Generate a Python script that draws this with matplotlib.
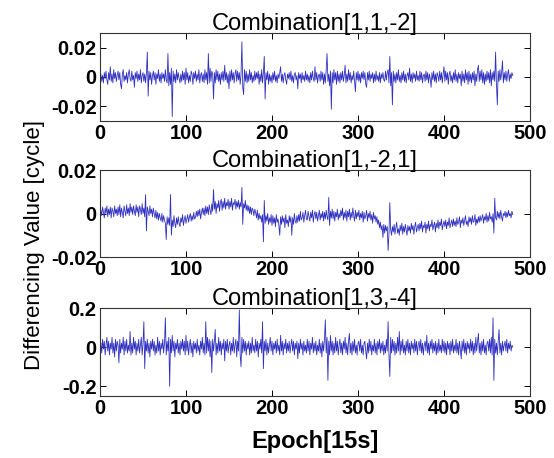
import numpy as np
import matplotlib
matplotlib.use("Agg")
import matplotlib.pyplot as plt

plt.rcParams['font.family'] = ['Liberation Sans', 'DejaVu Sans']

# ---------------- data ----------------
titles = ["Combination[1,1,-2]", "Combination[1,-2,1]", "Combination[1,3,-4]"]
ylims = [(-0.03, 0.03), (-0.02, 0.02), (-0.25, 0.2)]
yticks = [[-0.02, 0, 0.02], [-0.02, 0, 0.02], [-0.2, 0, 0.2]]
ytick_labels = [["-0.02", "0", "0.02"], ["-0.02", "0", "0.02"], ["-0.2", "0", "0.2"]]
xticks = [0, 100, 200, 300, 400, 500]

# Combination[1,1,-2], in units of 0.001 cycle, epochs 1..480
comb_112_mcyc = [
    2, -3, 1, -4, 3, -1, 4, -2, -5, 3,
    -2, 7, -3, 2, -4, 5, -1, 3, -3, 1,
    4, -2, 3, -5, -8, 2, 5, -3, 1, -2,
    3, -4, 2, 5, -1, -3, 4, -2, 1, -7,
    3, -1, 4, -3, 2, -2, 5, -4, 1, 3,
    -3, 2, -4, 3, 17, -13, 4, -2, 3, -5,
    1, 4, -2, 3, -5, 2, -1, 5, -3, 2,
    -4, 3, -1, 2, -3, 5, -2, -4, 16, -6,
    3, -5, 6, -27, 4, -3, 2, -4, 5, -2,
    3, -1, -4, 2, -3, 4, -2, 3, -5, 6,
    -2, 3, -4, 1, -3, 4, 2, -5, 3, -1,
    4, -3, 2, -2, 5, -4, 1, 3, -3, 2,
    -4, 5, -2, 3, -5, 16, -4, 6, -3, 4,
    2, -15, 3, -4, 5, -2, 4, -3, 2, -5,
    3, -2, 4, -3, 8, -2, 3, -4, 2, -8,
    4, -3, 5, -2, 3, -4, 2, 5, -3, 4,
    -2, 3, -5, 2, 24, -7, -12, 5, -3, 4,
    -4, 2, -3, 5, -2, 3, -4, 1, -3, 4,
    -2, 3, -1, 4, -5, 2, -3, 5, -4, 3,
    14, -15, 3, -2, 4, -5, 2, -3, 1, -4,
    3, -2, 4, -3, 1, -4, 2, -1, 3, 7,
    -3, 2, -4, 1, 3, -2, -5, 2, -1, 3,
    -2, 4, -3, 1, -4, 2, 3, -2, 1, -8,
    3, -1, 2, -4, 3, -2, 1, -3, 4, -2,
    2, -3, 1, -4, 3, -2, 4, -1, -3, 7,
    -2, 3, -4, 1, 2, -3, 4, -2, 3, -5,
    2, -4, 5, 16, -3, 2, -6, 4, -22, 3,
    -4, 5, -2, 3, -5, 4, -3, 2, -4, 3,
    -2, 4, -3, 1, 8, -4, 2, -3, 5, -2,
    3, -4, 1, -2, 4, -3, -10, 3, -2, 4,
    -3, 2, -4, 3, -1, 4, -2, 3, -5, -7,
    3, -2, 4, -3, 2, -1, 3, -4, 2, -3,
    4, -2, 1, -3, 3, -4, 2, -1, 3, -2,
    -3, 4, -2, 3, 5, -4, 14, -6, 3, -19,
    4, -3, 2, -4, 3, -2, 5, -3, 1, -4,
    3, -2, 4, -3, 2, -4, 1, 3, -2, 6,
    -3, 2, -4, 3, -1, 2, -3, 4, -2, 1,
    -3, 4, -2, 3, -4, 1, 2, -3, 4, -2,
    3, -4, 2, -1, -7, 3, -2, 4, -3, 2,
    -4, 3, 1, -3, 4, -2, 3, -4, 2, 7,
    -3, 4, -2, 3, -5, 2, 4, -3, 1, -4,
    3, -2, 5, -3, 2, -4, 3, -1, 2, -6,
    4, -3, 2, -4, 5, -2, 3, -5, 4, -3,
    2, -4, 3, -2, 4, -6, 2, -3, 5, 8,
    -3, 4, -2, 5, -4, 3, -5, 2, -3, 4,
    -2, 3, -4, 5, -6, 3, -2, 4, -3, 17,
    -5, -19, 4, -3, 5, -2, 3, 11, -4, 3,
    -2, 4, -3, 2, 5, -3, 2, -1, 3, 1,
]

# Combination[1,-2,1], in units of 0.0001 cycle, epochs 1..480
comb_121_dmcyc = [
    15, -10, 30, 5, -20, 25, 0, 35, -15, 20,
    -5, 30, -20, 25, 10, -15, 35, 0, 20, -10,
    30, -5, 40, -15, 25, 5, -20, 35, 10, -10,
    40, 0, 25, -10, 45, 5, 30, -5, 35, 10,
    -10, 40, 5, 30, -15, 35, 20, -5, 45, 0,
    25, -15, 87, -80, 30, 10, -10, 35, 0, 20,
    -15, 25, 0, -20, 15, -25, 5, -30, 0, -20,
    -35, 0, -40, -10, -30, -45, -120, -15, -50, -20,
    -55, 87, -100, -30, -60, -10, -45, -65, -20, -50,
    -15, -45, -60, -20, -40, -5, -55, -30, -10, -45,
    -25, -5, -40, -15, 0, -35, -10, -30, 5, -25,
    -20, 10, -15, 15, -10, 20, -25, 5, 25, -5,
    25, -10, 35, 0, 30, -5, 40, 15, -5, 45,
    10, 110, 20, 55, 0, 45, 25, 60, 10, 50,
    65, 15, 55, 25, 70, 20, 50, 35, 65, 20,
    55, 30, 70, 15, 50, 40, 65, 20, 55, 30,
    60, 20, 50, 30, 120, -50, 45, 25, 60, 15,
    40, 10, 35, 0, 30, -5, 25, 15, -10, 20,
    5, -20, 15, -30, 0, -25, -10, -40, -5, -130,
    60, -45, -10, -35, 0, -50, -20, -40, -5, -55,
    -10, -45, -20, -60, -5, -40, -25, -55, -100, -15,
    -50, -10, -40, -20, -65, -5, -45, -30, -60, -10,
    -40, -15, -100, -20, -50, 0, -35, -45, -10, -40,
    -5, -35, 10, -30, -20, 5, -40, -10, 15, -25,
    -30, 10, -15, -35, 5, -20, 15, -40, -5, 10,
    -25, 5, -35, -10, 15, -30, 0, -20, 10, -35,
    5, -25, 15, -15, -30, 74, -55, 10, -20, 20,
    -25, 10, -35, 5, -15, 20, -30, 0, -20, 15,
    -10, 25, -30, 5, -20, 15, -35, 10, -15, 20,
    -30, 5, -20, 25, -10, -35, 15, -25, 5, -15,
    15, -30, 0, -20, 10, -40, 5, -25, -10, 15,
    -35, 0, -20, 10, -30, -5, -45, 5, -25, -10,
    -40, -15, -50, -30, -65, -40, -75, -55, -110, -50,
    -90, -55, -80, -60, -170, -95, 50, -75, -100, -60,
    -85, -50, -95, -65, -40, -90, -70, -100, -55, -80,
    -45, -95, -60, -85, -50, -75, -100, -55, -80, -60,
    -90, -45, -75, -55, -95, -60, -40, -85, -65, -50,
    -80, -45, -70, -35, -85, -55, -65, -40, -90, -50,
    -70, -35, -80, -50, -60, -30, -75, -55, -40, -85,
    -45, -65, -30, -70, -40, -55, -25, -75, -50, -35,
    -60, -30, -70, -40, -55, -20, -65, -45, -30, -60,
    -25, -55, -35, -60, -20, -50, -40, -15, -65, -30,
    -45, -20, -55, -30, -10, -50, -35, -60, -15, -40,
    -20, -50, -10, -40, -35, -5, -55, -25, -45, -15,
    -40, -10, -35, -20, -5, -45, -15, -30, 0, -40,
    -10, -35, 5, -25, -15, -40, 0, -90, 70, -20,
    -30, 10, -20, 5, -25, 15, -15, -35, 0, -10,
    10, -20, 5, -15, 15, -10, 0, -20, 10, -5,
]

# Combination[1,3,-4], in units of 0.01 cycle, epochs 1..480
comb_134_ccyc = [
    2, -3, 4, -1, 3, -4, 1, 5, -2, 3,
    -4, 2, -1, 5, -3, 2, -5, 4, -2, 3,
    1, -8, 4, -3, 2, -1, 5, -4, 3, -2,
    4, -3, 1, -2, 8, -4, 2, -3, 5, -1,
    3, -4, 2, -2, 4, -3, 1, 5, -4, 2,
    13, -11, 3, -2, 4, -3, 2, -5, 3, -1,
    4, -2, 3, -4, 1, -3, 5, -2, 3, -4,
    2, -1, 4, -3, 2, 15, -4, 3, -2, 5,
    -20, 4, -3, 6, -2, 3, -5, 2, -1, 4,
    -3, 2, -4, 3, -1, 4, -2, 3, -4, 6,
    -2, 3, -4, 1, 4, -3, 2, -5, 3, -1,
    2, -3, 4, -2, 1, -4, 3, -1, 5, -3,
    2, -4, 13, -3, 5, -2, 4, -5, 3, -13,
    4, -2, 3, 9, -4, 2, -3, 5, -2, 3,
    -4, 2, -1, 4, -7, 3, -2, 4, -3, 1,
    3, -4, 2, -2, 5, -3, 1, 4, -5, 3,
    -2, 19, -4, -10, 5, -3, 4, -2, 3, -4,
    2, -1, 3, -4, 2, -3, 5, -2, 1, -3,
    4, -2, 3, -5, 2, -1, 4, -3, 13, -11,
    3, -2, 4, -4, 2, -3, 1, 5, -2, 3,
    -4, 2, -1, 3, -3, 4, -2, 1, -4, 6,
    -2, 3, -4, 2, -1, 4, -3, 2, -2, 3,
    -3, 1, 4, -2, 3, -4, 2, -1, 3, -6,
    2, -3, 4, -1, 2, -4, 3, -2, 1, -3,
    4, -2, 3, -4, 2, -1, 5, -3, 2, -2,
    3, -4, 1, -2, 4, -3, 2, -5, 3, -2,
    4, 14, -3, 5, -17, 3, -4, 6, -2, 3,
    -4, 2, -3, 5, -2, 3, -4, 1, 4, -3,
    2, -4, 3, -1, 5, -3, 2, -4, 3, 7,
    -3, 2, -4, 3, -2, 4, -3, 1, -4, 2,
    3, -2, 4, -3, 1, -4, 2, 3, -2, -6,
    2, -3, 4, -2, 3, -4, 1, -2, 4, -3,
    2, -4, 3, -1, 4, -3, 2, -2, 3, -4,
    1, -3, 4, -2, 13, -4, -15, 5, -3, 4,
    -2, 3, -4, 2, -3, 5, -2, 8, -4, 3,
    -2, 4, -3, 1, -4, 3, -2, 4, -3, 2,
    -4, 3, -1, 2, -3, 4, -2, 3, -4, 1,
    3, -2, 4, -3, 2, -4, 1, 3, -2, 6,
    -3, 2, -4, 3, -1, 4, -3, 2, -2, 3,
    -4, 2, -3, 4, -2, 1, -3, 4, -2, 3,
    -3, 2, -4, 3, -1, 2, -4, 3, -2, 4,
    -3, 1, -2, 4, -3, 2, -4, 3, -1, -6,
    3, -2, 4, -3, 2, -4, 3, -1, 2, -3,
    4, -2, 3, -4, 2, -3, 5, -2, 3, 7,
    -3, 2, -4, 3, -2, 4, -3, 1, -4, 2,
    3, -2, 4, -3, 5, -4, 15, -17, 4, -3,
    2, -4, 3, 9, -3, 2, -4, 3, -2, 1,
    3, -2, 4, -3, 2, -1, 3, -2, 1, 0,
]

epochs = np.arange(1, len(comb_112_mcyc) + 1)
series = [np.array(comb_112_mcyc) / 1000.0,
          np.array(comb_121_dmcyc) / 10000.0,
          np.array(comb_134_ccyc) / 100.0]

# ---------------- figure ----------------
W, H = 554, 458
fig = plt.figure(figsize=(W / 100, H / 100), dpi=100)
left, right = 100, 530
boxes = [(33, 121), (170, 257), (308, 396)]

for i, (top, bot) in enumerate(boxes):
    ax = fig.add_axes([left / W, 1 - bot / H, (right - left) / W, (bot - top) / H])
    ax.plot(epochs, series[i], color='#3030c0', lw=0.6)
    ax.set_xlim(0, 500)
    ax.set_ylim(*ylims[i])
    ax.set_xticks(xticks)
    ax.set_xticklabels([str(t) for t in xticks], fontweight='bold', fontsize=14.5)
    ax.set_yticks(yticks[i])
    ax.set_yticklabels(ytick_labels[i], fontweight='bold', fontsize=14.5)
    ax.tick_params(direction='in', length=4, width=0.7, top=True, right=True,
                   pad=2.5, colors='black')
    for s in ax.spines.values():
        s.set_linewidth(0.8)
        s.set_color('#333333')
    ax.set_title(titles[i], fontsize=17, pad=2)
    if i == 2:
        ax.set_xlabel("Epoch[15s]", fontsize=17, fontweight='bold', labelpad=8)

fig.text(35 / W, 1 - 245 / H, "Differencing Value [cycle]", rotation=90,
         ha='center', va='center', fontsize=16)

fig.savefig("out.png", dpi=100)
